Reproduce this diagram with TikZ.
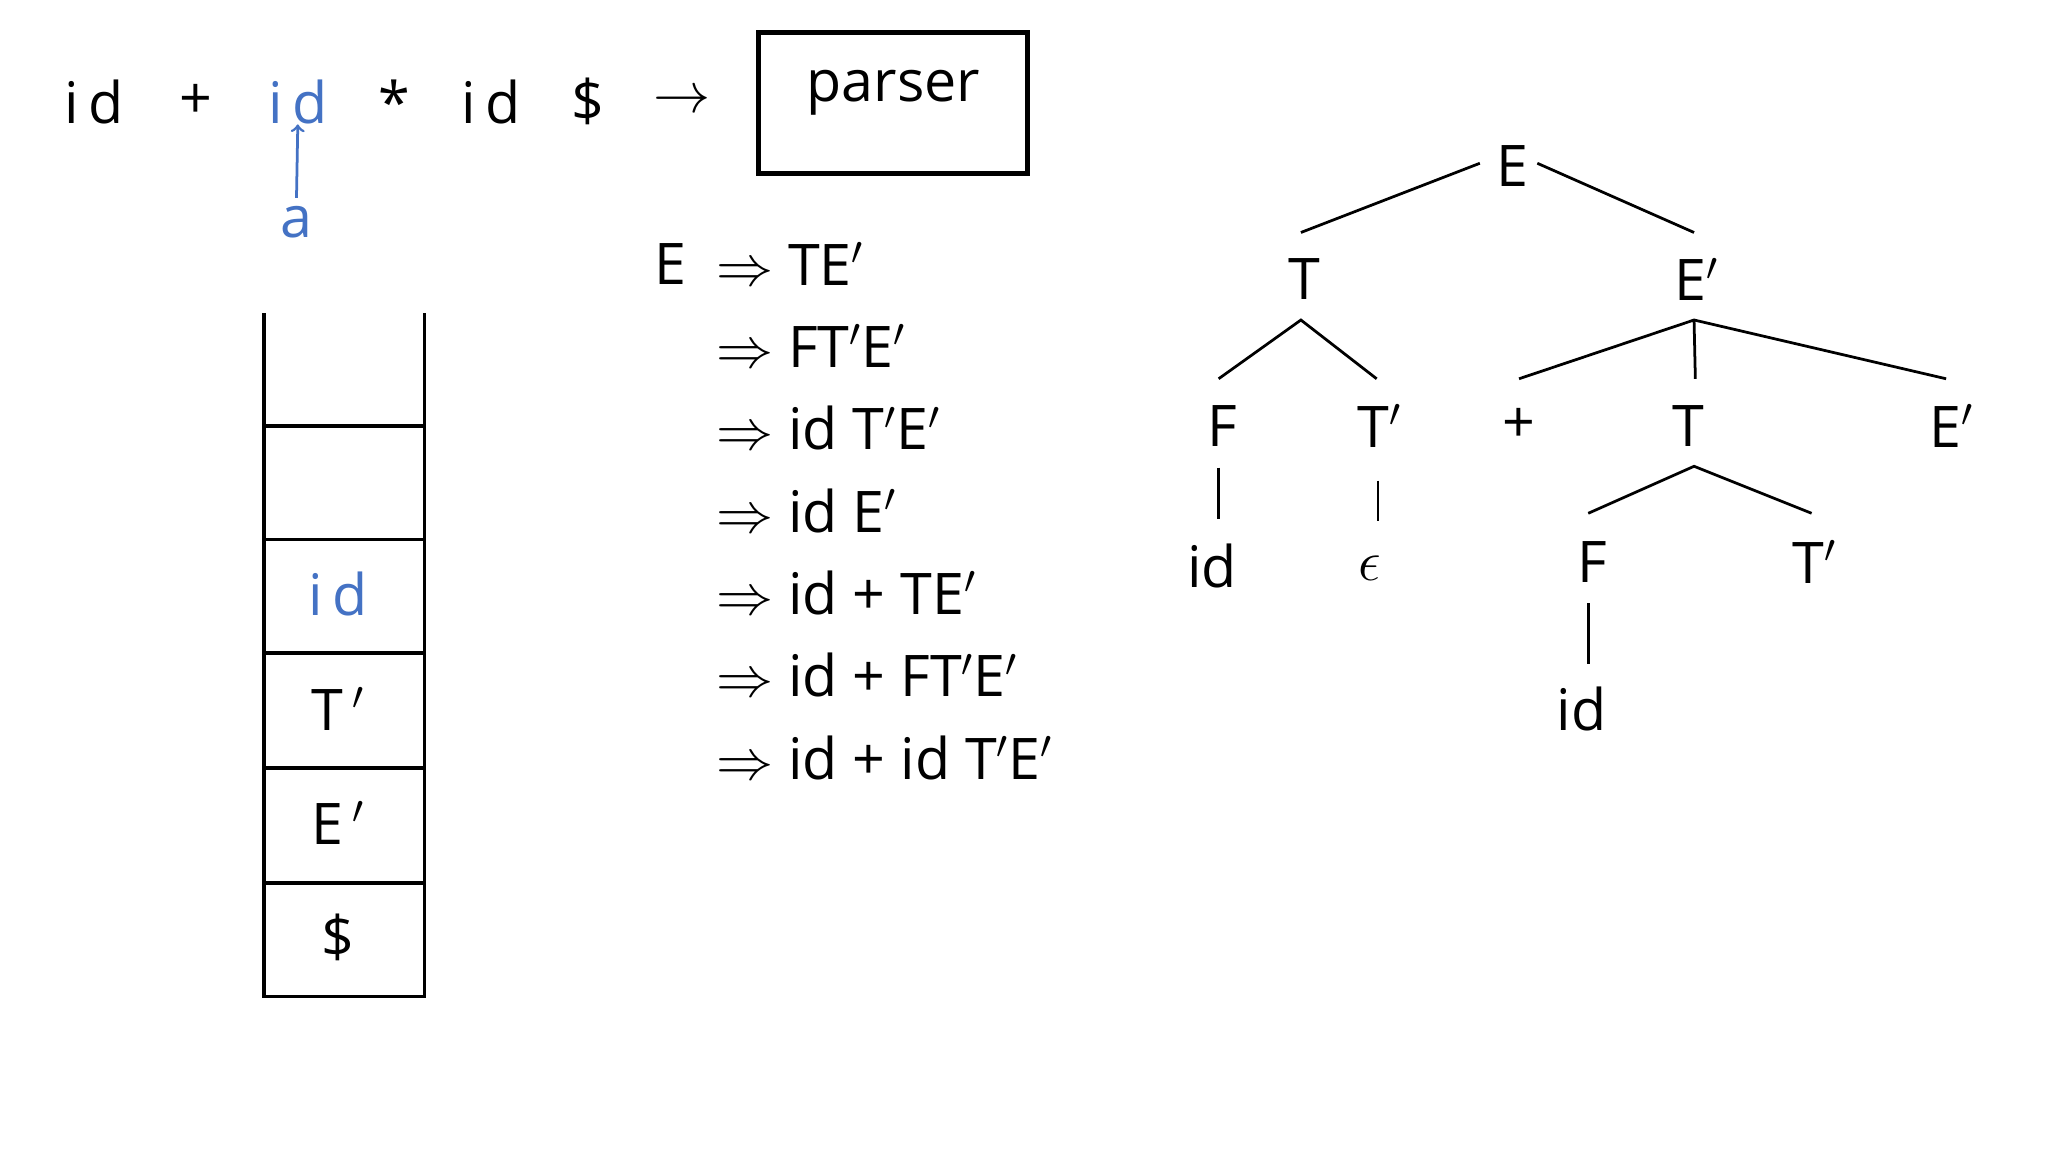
\documentclass[tikz,border=0pt]{standalone}
\usepackage{fontspec}
\setmainfont{Open Sans}
\definecolor{blu}{HTML}{4472C4}
\begin{document}
\begin{tikzpicture}[x=0.02cm,y=-0.02cm,
  t/.style={inner sep=0pt,font=\fontsize{25}{30}\selectfont},
  ln/.style={line width=1.2pt},
  bx/.style={line width=1.6pt}]
\useasboundingbox (0,0) rectangle (1568,882);
% input
\node[t] (i1) at (72,78) {i\,d};
\node[t] (p1) at (150,78) {+};
\node[t,text=blu] (i2) at (228,78) {i\,d};
\node[t] (st) at (302,78) {*};
\node[t] (i3) at (376,78) {i\,d};
\node[t] (do) at (450,78) {\$};
\node[t] (ar) at (522,78) {$\rightarrow$};
\node[t,text=blu] (a) at (227,170) {a};
\draw[blu,ln,->] (a.north) ++(0,-6) coordinate (ab) (ab) -- (i2.south);
\node[draw,line width=2.2pt,minimum width=206*0.02cm,minimum height=108*0.02cm,t] (parser) at (684,79) {\raisebox{0.6em}{parser}};
% stack
\draw[bx] (202,240) -- (202,763) -- (325,763) -- (325,240);
\foreach \y in {326,413,500,588,676} \draw[bx] (202,\y) -- (325,\y);
\node[t,text=blu] (s1) at (259,455) {i\,d};
\node[t] (s2) at (259,543) {T$\,'$};
\node[t] (s3) at (259,630) {E$\,'$};
\node[t] (s4) at (259,718) {\$};
% derivation
\node[t] (e0) at (513,202) {E};
\foreach \txt [count=\i] in {TE$'$,FT$'$E$'$,id T$'$E$'$,id E$'$,id + TE$'$,id + FT$'$E$'$,id + id T$'$E$'$}
  \node[t,anchor=west] (d\i) at (548,139+63*\i) {$\Rightarrow$ \txt};
% tree
\node[t] (E) at (1158,127) {E};
\node[t] (T) at (999,214) {T};
\node[t] (Ep) at (1299,214) {E$'$};
\node[t] (F) at (936,326) {F};
\node[t] (Tp) at (1056,326) {T$'$};
\node[t] (pl) at (1163,326) {+};
\node[t] (T2) at (1293,326) {T};
\node[t] (Ep2) at (1494,326) {E$'$};
\node[t] (id1) at (928,433) {id};
\node[t] (eps) at (1049,435) {$\epsilon$};
\node[t] (F2) at (1219,430) {F};
\node[t] (Tp2) at (1389,430) {T$'$};
\node[t] (id2) at (1211,543) {id};
\coordinate (Ea) at (1133,125); \coordinate (Eb) at (1177,125);
\draw[ln] (Ea) -- (996,178); \draw[ln] (Eb) -- (1297,178);
\coordinate (Tb) at (996,245);
\draw[ln] (933,290) -- (Tb) -- (1054,290);
\coordinate (Epb) at (1297,245);
\draw[ln] (1163,290) -- (Epb) -- (1490,290);
\draw[ln] (Epb) -- (1298,290);
\coordinate (T2b) at (1297,357);
\draw[ln] (1216,393) -- (T2b) -- (1387,393);
\draw[ln] (933,358) -- (933,397);
\draw[ln] (1055,368) -- (1055,399);
\draw[ln] (1216,462) -- (1216,508);
\end{tikzpicture}
\end{document}
